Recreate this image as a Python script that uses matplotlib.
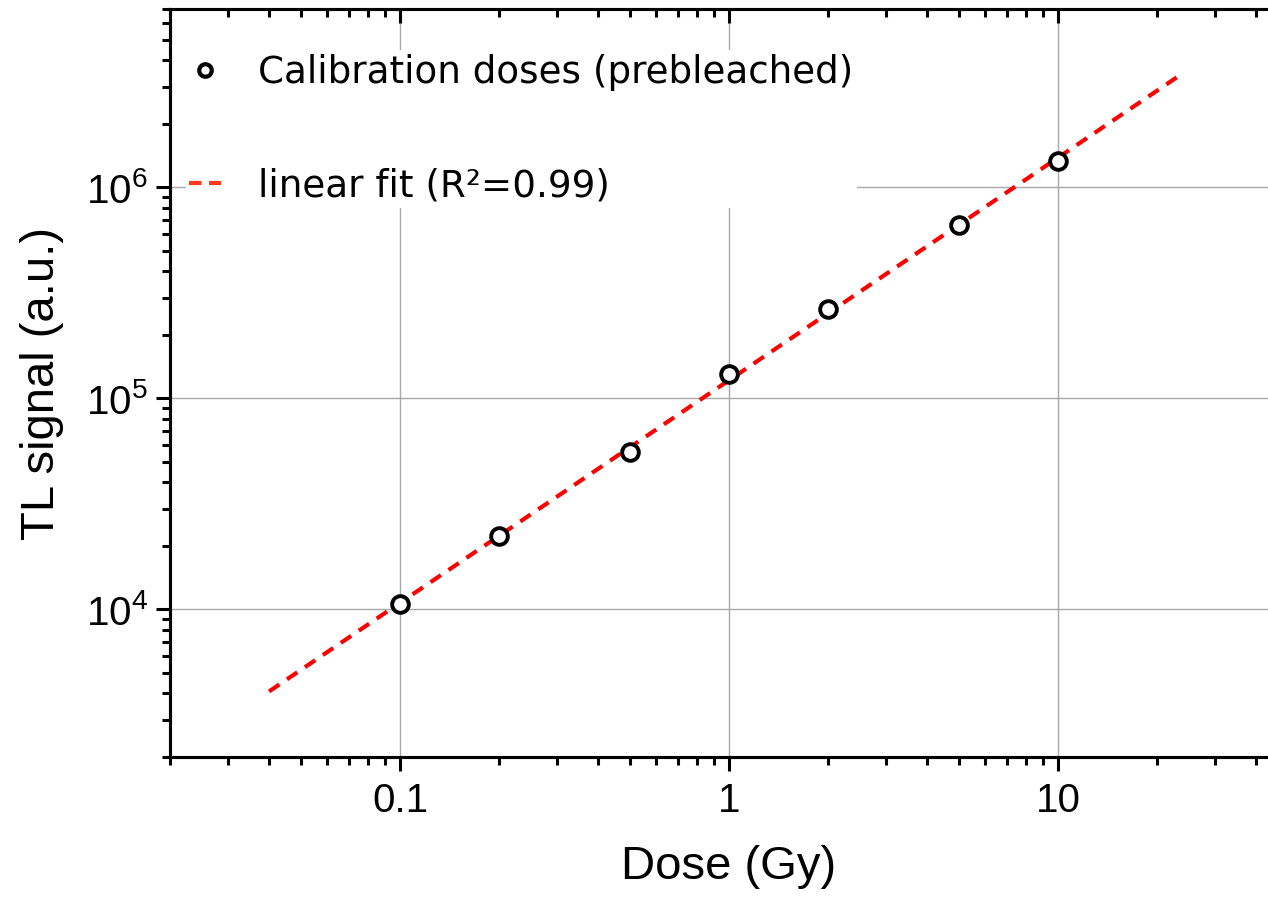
import numpy as np
import matplotlib
matplotlib.use('Agg')
import matplotlib.pyplot as plt
from matplotlib.lines import Line2D
from matplotlib.ticker import LogLocator, FuncFormatter, NullFormatter

# calibration data
dose = [0.1, 0.2, 0.5, 1, 2, 5, 10]
signal = [1.06e4, 2.22e4, 5.6e4, 1.31e5, 2.64e5, 6.6e5, 1.33e6]
fit_range = [0.04, 24]

plt.rcParams['font.family'] = ['Liberation Sans', 'DejaVu Sans']
plt.rcParams['mathtext.fontset'] = 'custom'
plt.rcParams['mathtext.rm'] = 'Liberation Sans'
plt.rcParams['mathtext.it'] = 'Liberation Sans:italic'
plt.rcParams['mathtext.bf'] = 'Liberation Sans:bold'

fig = plt.figure(figsize=(12.68, 8.98), dpi=100)
# axes runs past the right edge of the picture like the original
ax = fig.add_axes([170/1268, 141/898, 1118/1268, 748/898])
ax.set_xscale('log')
ax.set_yscale('log')

# linear fit in log-log space
p = np.polyfit(np.log10(dose), np.log10(signal), 1)
xf = np.logspace(np.log10(fit_range[0]), np.log10(fit_range[1]), 50)
yf = 10 ** np.polyval(p, np.log10(xf))
ax.plot(xf, yf, color='#ff0000', lw=3, dashes=[3, 2.2], zorder=2)
ax.plot(dose, signal, 'o', mfc='white', mec='black', ms=12, mew=2.8, zorder=3)

ax.set_xlim(0.02, 50)
ax.set_ylim(2e3, 7e6)

def log_ticks(axis):
    axis.set_major_locator(LogLocator(base=10, numticks=10))
    axis.set_minor_locator(LogLocator(base=10, subs=np.arange(2, 10), numticks=20))
    axis.set_minor_formatter(NullFormatter())

log_ticks(ax.xaxis)
log_ticks(ax.yaxis)
ax.xaxis.set_major_formatter(FuncFormatter(lambda v, pos: '%g' % v))

ax.grid(which='major', color='#a8a8a8', lw=1)
for s in ax.spines.values():
    s.set_linewidth(2.2)

ax.tick_params(which='both', labelsize=29, width=2.2, color='black', direction='out')
ax.tick_params(which='major', length=10)
ax.tick_params(which='minor', length=5.5)
ax.tick_params(axis='x', pad=8)
ax.tick_params(axis='y', pad=6)

ax.set_xlabel('Dose (Gy)', fontsize=34, labelpad=18)
ax.set_ylabel('TL signal (a.u.)', fontsize=34, labelpad=16)

h1 = Line2D([], [], ls='none', marker='o', mfc='white', mec='black', ms=9, mew=3)
h2 = Line2D([], [], color='#ff3a1a', lw=3, dashes=[3, 1.8])
leg = ax.legend([h1, h2], ['Calibration doses (prebleached)', 'linear fit (R\u00b2=0.99)'],
                loc='upper left', bbox_to_anchor=(0.014, 0.945), borderaxespad=0,
                borderpad=0.1, prop={'family': 'DejaVu Sans', 'size': 26.8},
                handlelength=0.85, handletextpad=1.0, labelspacing=2.05,
                frameon=True, fancybox=False, edgecolor='none', facecolor='white', framealpha=1)

# top axis: default log ticks pointing inward, no labels
top = ax.twiny()
top.set_xscale('log')
top.set_xlim(0.02, 50)
top.tick_params(axis='x', which='both', top=True, bottom=False, labeltop=False,
                direction='in', width=2.2, color='black')
top.tick_params(axis='x', which='major', length=10)
top.tick_params(axis='x', which='minor', length=5.5)
for s in top.spines.values():
    s.set_linewidth(2.2)

fig.savefig('out.png', dpi=100)
